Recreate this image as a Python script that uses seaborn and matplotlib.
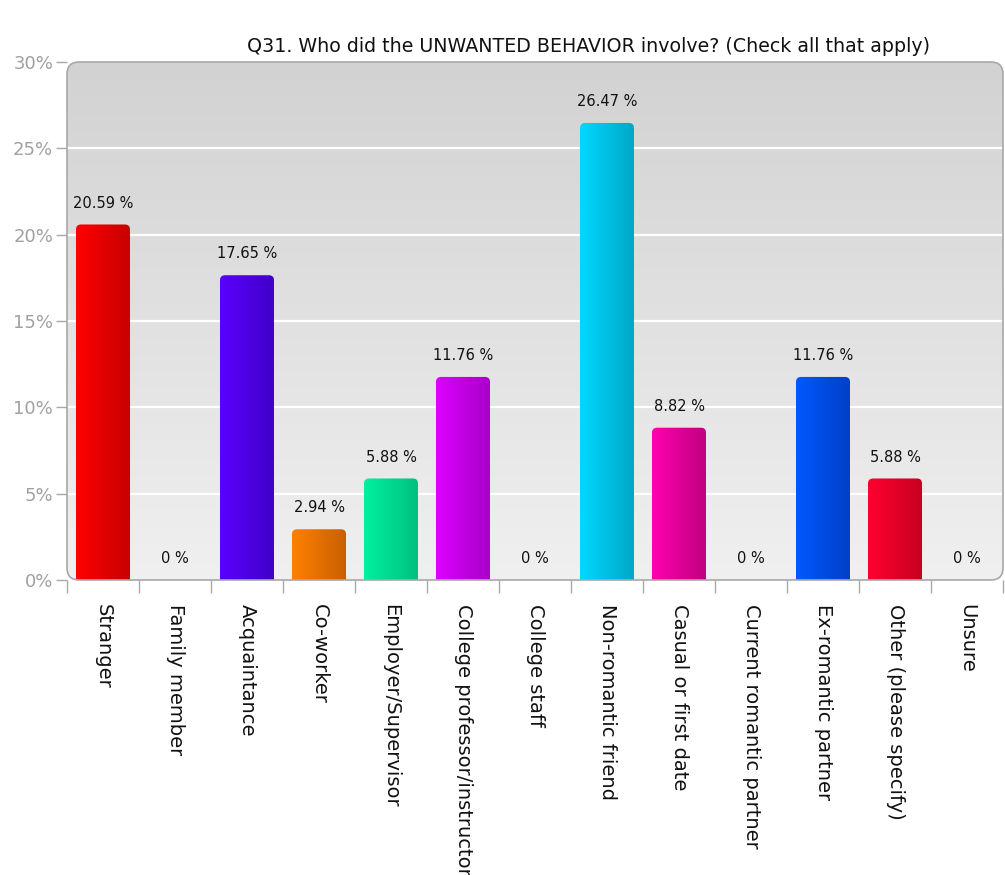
import numpy as np
import matplotlib
matplotlib.use("Agg")
import matplotlib.pyplot as plt
import seaborn as sns
from matplotlib.patches import FancyBboxPatch
from matplotlib.colors import to_rgb
from matplotlib.ticker import FuncFormatter, MultipleLocator

categories = [
    "Stranger", "Family member", "Acquaintance", "Co-worker",
    "Employer/Supervisor", "College professor/instructor", "College staff",
    "Non-romantic friend", "Casual or first date", "Current romantic partner",
    "Ex-romantic partner", "Other (please specify)", "Unsure",
]
values = [20.59, 0, 17.65, 2.94, 5.88, 11.76, 0, 26.47, 8.82, 0, 11.76, 5.88, 0]
colors_light = ["#ff0000", "#888888", "#5a00ff", "#ff8000", "#00f0a0", "#dd00ff",
                "#888888", "#00d8ff", "#ff00b0", "#888888", "#0058ff", "#ff0030", "#888888"]
colors_dark = ["#c80000", "#666666", "#4000c8", "#c86000", "#00c080", "#a800c8",
               "#666666", "#00a8c8", "#c00080", "#666666", "#0040c8", "#c80020", "#666666"]
title = "Q31. Who did the UNWANTED BEHAVIOR involve? (Check all that apply)"

sns.set_theme(style="white")
plt.rcParams["font.family"] = ["DejaVu Sans"]

fig = plt.figure(figsize=(10.05, 8.75), dpi=100)
AX_W, AX_H = 936, 518
ax = fig.add_axes([67 / 1005, 1 - 580 / 875, AX_W / 1005, AX_H / 875])

sns.barplot(x=categories, y=values, hue=categories, palette=colors_light,
            legend=False, width=0.75, ax=ax, zorder=3, edgecolor="none")

N = len(categories)
YMAX = 30

# rounded panel with vertical grey gradient (darker at the top)
ax.patch.set_visible(False)
for s in ax.spines.values():
    s.set_visible(False)
panel = FancyBboxPatch((0, 0), 1, 1, boxstyle="round,pad=0,rounding_size=0.013",
                       mutation_aspect=AX_W / AX_H, transform=ax.transAxes,
                       facecolor="none", edgecolor="#a8a8a8", linewidth=1.2,
                       zorder=4, clip_on=False)
ax.add_patch(panel)
bg = np.linspace(0, 1, 256).reshape(-1, 1)
top_c, bot_c = np.array(to_rgb("#d2d2d2")), np.array(to_rgb("#f0f0f0"))
bg_img = top_c[None, None, :] * (1 - bg[:, :, None]) + bot_c[None, None, :] * bg[:, :, None]
im = ax.imshow(bg_img, extent=[0, 1, 0, 1], transform=ax.transAxes, aspect="auto",
               zorder=0, origin="upper")
im.set_clip_path(FancyBboxPatch((0, 0), 1, 1, boxstyle="round,pad=0,rounding_size=0.013",
                                mutation_aspect=AX_W / AX_H, transform=ax.transAxes))

# white horizontal grid lines
for yv in range(5, YMAX, 5):
    ax.axhline(yv, color="white", lw=1.6, zorder=1)

# horizontal gradient on each bar with rounded top
grad = np.linspace(0, 1, 64).reshape(1, -1)
for bar, c1, c2, v in zip(ax.patches, colors_light, colors_dark, values):
    bar.set_visible(False)
    if v <= 0:
        continue
    x0, w, h = bar.get_x(), bar.get_width(), bar.get_height()
    a, b = np.array(to_rgb(c1)), np.array(to_rgb(c2))
    img = a[None, None, :] * (1 - grad[:, :, None]) + b[None, None, :] * grad[:, :, None]
    shape = FancyBboxPatch((x0, -1), w, h + 1, boxstyle="round,pad=0,rounding_size=0.07",
                           mutation_aspect=(YMAX / AX_H) / (N / AX_W),
                           transform=ax.transData, facecolor="none", edgecolor="none")
    ax.add_patch(shape)
    gi = ax.imshow(img, extent=[x0, x0 + w, 0, h], aspect="auto", zorder=3,
                   interpolation="bilinear")
    gi.set_clip_path(shape)
ax.set_xlim(-0.5, N - 0.5)
ax.set_ylim(0, YMAX)

# value labels
for i, v in enumerate(values):
    ax.text(i, v + 0.8, f"{v:g} %", ha="center", va="bottom", fontsize=10.5,
            color="#111111", zorder=5)

# axes ticks
ax.yaxis.set_major_locator(MultipleLocator(5))
ax.yaxis.set_major_formatter(FuncFormatter(lambda y, _: f"{y:.0f}%"))
ax.tick_params(axis="y", left=True, length=8, width=1, color="#a8a8a8",
               labelcolor="#a0a0a0", labelsize=13, pad=2)
ax.set_xticks(range(N))
ax.set_xticklabels(categories, rotation=-90, va="top", ha="center", fontsize=14,
                   color="#111111")
ax.tick_params(axis="x", bottom=False, length=0, pad=17)
ax.set_xticks(np.arange(-0.5, N, 1), minor=True)
ax.tick_params(axis="x", which="minor", bottom=True, length=9, width=1, color="#a8a8a8")
ax.set_xlabel("")
ax.set_ylabel("")

fig.text(588 / 1005, 1 - 47 / 875, title, ha="center", va="center", fontsize=13.7,
         color="#111111")

fig.savefig("out.png", dpi=100, facecolor="white")
